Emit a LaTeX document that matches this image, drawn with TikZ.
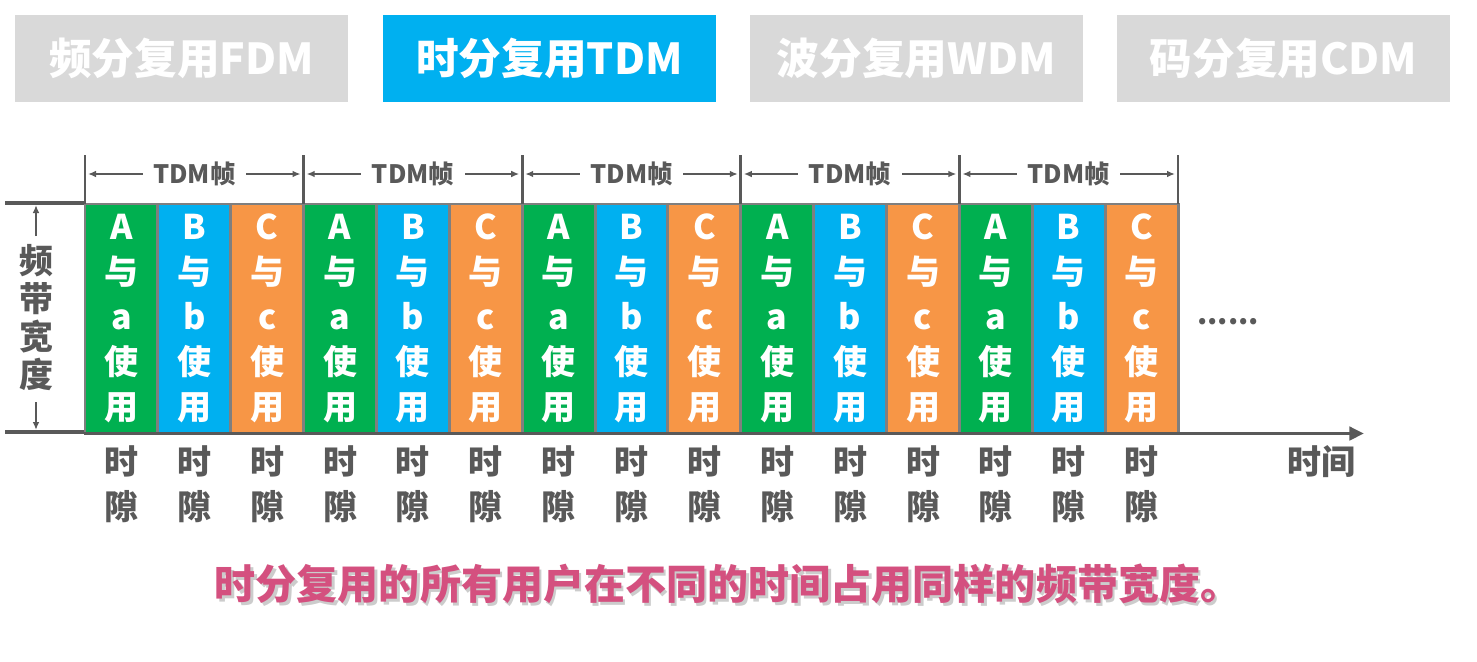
\documentclass[tikz,border=0pt]{standalone}
\usepackage{fontspec}
\setmainfont{Noto Sans CJK SC}
\usetikzlibrary{arrows.meta}
\definecolor{tabgray}{HTML}{D9D9D9}
\definecolor{tabblue}{HTML}{00B0F0}
\definecolor{sgreen}{HTML}{00B050}
\definecolor{sblue}{HTML}{00B0F0}
\definecolor{sorange}{HTML}{F79646}
\definecolor{bordergray}{HTML}{7F7F7F}
\definecolor{darkg}{HTML}{595959}
\definecolor{pinktext}{HTML}{D4507F}
\newcommand{\captiontext}{时分复用的所有用户在不同的时间占用同样的频带宽度。}
\tikzset{
  tab/.style={minimum width=249.75pt, minimum height=65.25pt, inner sep=0pt, text=white, font=\fontsize{32}{36}\selectfont\bfseries},
  slotbox/.style={draw=bordergray, line width=2.2pt, minimum width=54.65pt, minimum height=171.75pt, inner sep=0pt, text=white, align=center, font=\fontsize{25.5}{33.75}\selectfont\bfseries},
  tslabel/.style={text=darkg, align=center, font=\fontsize{25.5}{33.75}\selectfont\bfseries},
  frametick/.style={draw=darkg, line width=2.2pt},
  framearrow/.style={draw=darkg, line width=2.1pt, {Latex[length=6pt,width=5pt]}-{Latex[length=6pt,width=5pt]}},
  framelabel/.style={fill=white, text=darkg, inner xsep=8pt, inner ysep=1pt, font=\fontsize{19}{22}\selectfont\bfseries},
  axisline/.style={draw=darkg, line width=2.6pt},
  bwlabel/.style={text=darkg, align=center, font=\fontsize{25.5}{28.5}\selectfont\bfseries},
}
\begin{document}
\begin{tikzpicture}[x=0.75pt,y=-0.75pt]
\useasboundingbox (0,0) rectangle (1477,661);
\fill[white] (0,0) rectangle (1477,661);
% tabs
\node[tab, fill=tabgray] (t1) at (181.5,58.5) {频分复用FDM};
\node[tab, fill=tabblue] (t2) at (549.5,58.5) {时分复用TDM};
\node[tab, fill=tabgray] (t3) at (916.5,58.5) {波分复用WDM};
\node[tab, fill=tabgray] (t4) at (1283.5,58.5) {码分复用CDM};
% slots
\foreach \f in {0,...,4}{
  \foreach \k/\c/\U/\L in {0/sgreen/A/a,1/sblue/B/b,2/sorange/C/c}{
    \pgfmathsetmacro\xm{85+(3*\f+\k)*72.87+36.43}
    \pgfmathtruncatemacro\n{3*\f+\k}
    \node[slotbox, fill=\c] (s\n) at (\xm,318.5) {\U\\与\\\L\\使\\用};
    \node[tslabel] (ts\n) at (\xm,484.5) {时\\隙};
  }
}
% frame ticks and arrows
\foreach \j in {0,...,5}{
  \pgfmathsetmacro\xx{85+\j*218.6}
  \coordinate (ft\j) at (\xx,155);
  \coordinate (fb\j) at (\xx,204);
  \draw[frametick] (ft\j) -- (fb\j);
}
\foreach \j in {0,...,4}{
  \pgfmathsetmacro\xa{85+\j*218.6+3}
  \pgfmathsetmacro\xb{85+(\j+1)*218.6-3}
  \coordinate (fa\j) at (\xa,174);
  \coordinate (fz\j) at (\xb,174);
  \draw[framearrow] (fa\j) -- (fz\j) node[midway, framelabel] (fl\j) {TDM帧};
}
% bandwidth marker on the left
\coordinate (lt0) at (5,203);
\coordinate (lt1) at (84,203);
\coordinate (lb0) at (5,432);
\coordinate (lb1) at (84,432);
\draw[axisline] (lt0) -- (lt1);
\draw[axisline] (lb0) -- (lb1);
\node[bwlabel] (bw) at (36,318) {频\\带\\宽\\度};
\coordinate (ua) at (36,236);
\coordinate (ub) at (36,205);
\coordinate (da) at (36,402);
\coordinate (db) at (36,430);
\draw[draw=darkg, line width=1.9pt, -{Latex[length=6pt,width=5pt]}] (ua) -- (ub);
\draw[draw=darkg, line width=1.9pt, -{Latex[length=6pt,width=5pt]}] (da) -- (db);
% time axis
\coordinate (ax0) at (84,433.5);
\coordinate (ax1) at (1364,433.5);
\draw[axisline, -{Triangle[length=11pt,width=10pt]}] (ax0) -- (ax1);
\node[text=darkg, font=\fontsize{25.5}{30}\selectfont\bfseries] (tl) at (1321,462) {时间};
\node[text=darkg, anchor=base, font=\fontsize{22}{26}\selectfont\bfseries] (dots) at (1228,324) {......};
% caption (with a soft shadow inside the same node)
\node[text=pinktext, font=\fontsize{30.8}{36}\selectfont\bfseries] (cap) at (728,585)
  {\makebox[0pt][l]{\hspace{1.9pt}\raisebox{-2.2pt}{\color{black!20}\captiontext}}\captiontext};
\end{tikzpicture}
\end{document}
